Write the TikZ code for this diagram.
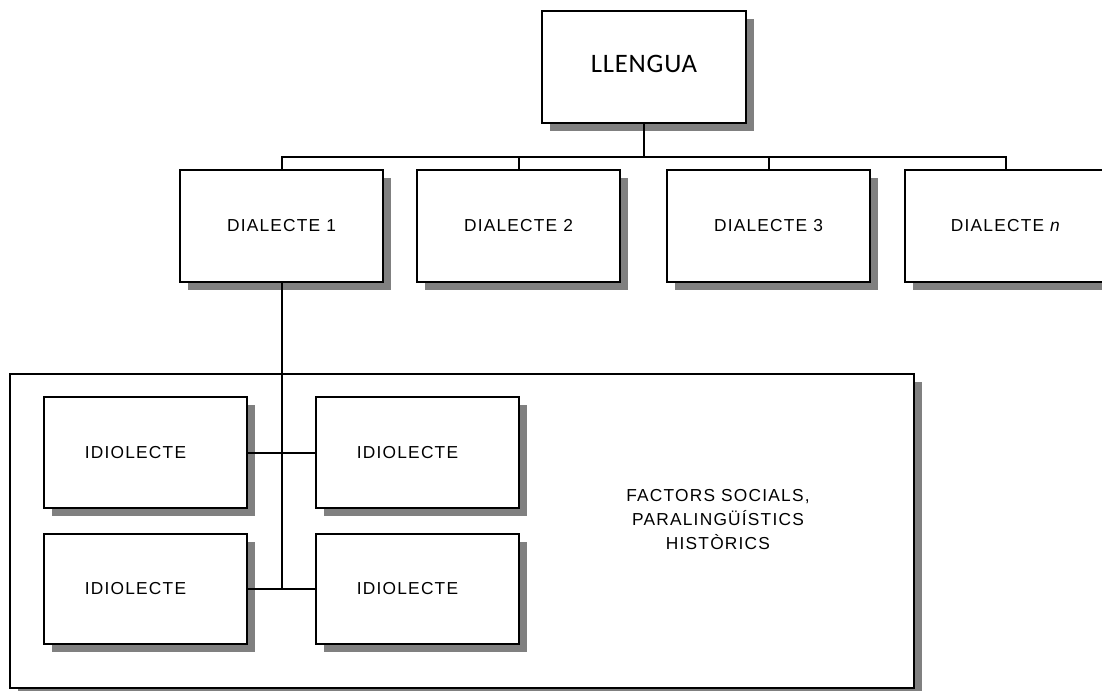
\documentclass[tikz,border=0pt]{standalone}
\usepackage{fontspec}
\setmainfont[LetterSpace=7]{Liberation Sans}
\newfontfamily\titlefont[LetterSpace=3]{Carlito}
\usetikzlibrary{shadows}

\begin{document}
\begin{tikzpicture}[x=0.75pt,y=-0.75pt
	,line width=1.5pt
	,font=\fontsize{13}{18}\selectfont]
  \tikzstyle{shadowbox}=[draw,fill=white,inner sep=0pt
  	,drop shadow={shadow xshift=6pt,shadow yshift=-6pt,fill=black!50,opacity=1}]
  \tikzstyle{dialbox}=[shadowbox,minimum width=152pt,minimum height=84pt]
  \tikzstyle{idiobox}=[shadowbox,minimum width=152pt,minimum height=83pt]

  \useasboundingbox (0,0) rectangle (1102,690);

  % top
  \node[shadowbox,minimum width=153pt,minimum height=84pt] (llengua) at (644,67)
  	{\titlefont\fontsize{20}{22}\selectfont\raisebox{4pt}{LLENGUA}};

  % 4 dialects
  \node[dialbox] (d1) at (281.5,226) {DIALECTE 1};
  \node[dialbox] (d2) at (518.5,226) {DIALECTE 2};
  \node[dialbox] (d3) at (768.5,226) {DIALECTE 3};
  \node[dialbox] (dn) at (1006,226) {DIALECTE \textit{n}};

  % big frame with idiolects
  \node[shadowbox,minimum width=678pt,minimum height=235.5pt] (social) at (462,531) {};
  \node[align=center] (factors) at (718,520)
  	{FACTORS SOCIALS,\\PARALINGÜÍSTICS\\HISTÒRICS};

  \node[idiobox] (i1) at (145.5,452.5) {IDIOLECTE\hspace*{15pt}};
  \node[idiobox] (i2) at (417.5,452.5) {IDIOLECTE\hspace*{15pt}};
  \node[idiobox] (i3) at (145.5,589) {IDIOLECTE\hspace*{15pt}};
  \node[idiobox] (i4) at (417.5,589) {IDIOLECTE\hspace*{15pt}};

  \coordinate (bus) at (644,157);

  \draw (llengua.south) -- (llengua.south |- bus);
  \draw (d1.north) -- (d1.north |- bus) -- (dn.north |- bus) -- (dn.north);
  \draw (d2.north) -- (d2.north |- bus);
  \draw (d3.north) -- (d3.north |- bus);

  \draw (d1.south) -- (d1.south |- i3.east);
  \draw (i1.east) -- (i2.west);
  \draw (i3.east) -- (i4.west);

\end{tikzpicture}
\end{document}
